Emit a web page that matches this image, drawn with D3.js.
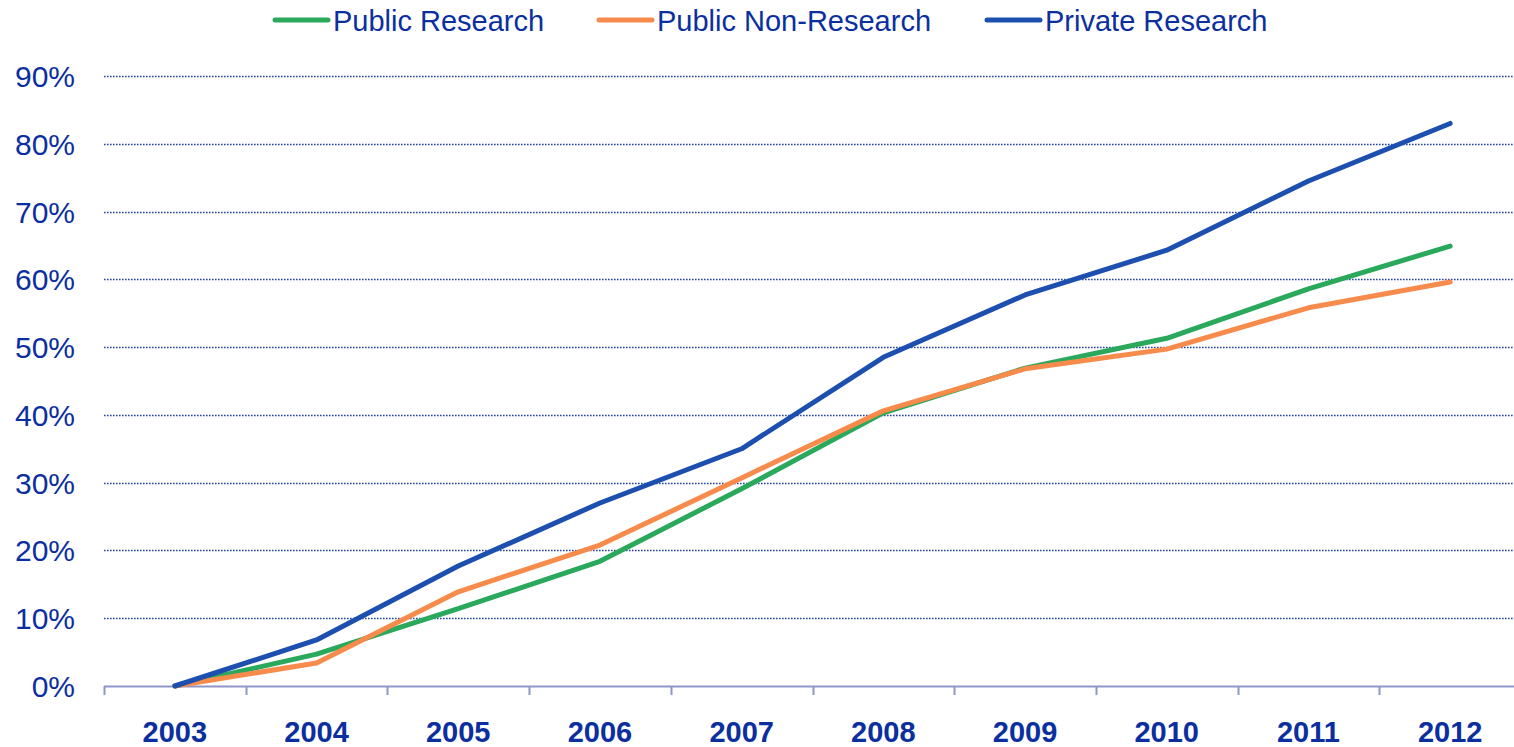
<!DOCTYPE html>
<html>
<head>
<meta charset="utf-8">
<script src="https://cdn.jsdelivr.net/npm/d3@7/dist/d3.min.js"></script>
<style>
  html, body { margin: 0; padding: 0; background: #fff; }
  svg { display: block; font-family: "Liberation Sans", Arial, sans-serif; }
</style>
</head>
<body>
<svg id="chart" width="1514" height="747"></svg>
<script>
// Cumulative growth since 2003, by institution type
const years = ["2003", "2004", "2005", "2006", "2007", "2008", "2009", "2010", "2011", "2012"];
const publicResearch    = [0, 4.7, 11.4, 18.4, 29.1, 40.3, 46.9, 51.3, 58.6, 64.9];
const publicNonResearch = [0, 3.4, 13.9, 20.8, 30.7, 40.6, 46.8, 49.7, 55.8, 59.6];
const privateResearch   = [0, 6.8, 17.7, 27.0, 35.0, 48.5, 57.7, 64.3, 74.5, 83.0];
const yTicks = [0, 10, 20, 30, 40, 50, 60, 70, 80, 90];

const series = [
  { name: "Public Research",     values: publicResearch,    color: "#2aa85b" },
  { name: "Public Non-Research", values: publicNonResearch, color: "#f68b4b" },
  { name: "Private Research",    values: privateResearch,   color: "#1d4faf" }
];

const textColor = "#0b2f9f";
const svg = d3.select("#chart");

const x = d3.scaleBand().domain(years).range([104, 1521]);
const y = d3.scaleLinear().domain([0, 90]).range([686, 76]);

// Dotted horizontal gridlines
svg.append("g")
  .selectAll("line")
  .data(yTicks.filter(d => d > 0))
  .join("line")
  .attr("x1", 104).attr("x2", 1514)
  .attr("y1", d => Math.round(y(d)) + 0.5).attr("y2", d => Math.round(y(d)) + 0.5)
  .attr("stroke", "#2443a8")
  .attr("stroke-width", 1.6)
  .attr("stroke-dasharray", "1.6,1.4");

// Y axis labels
svg.append("g")
  .selectAll("text")
  .data(yTicks)
  .join("text")
  .attr("x", 75)
  .attr("y", d => y(d) + 11)
  .attr("text-anchor", "end")
  .attr("font-size", 30)
  .attr("fill", textColor)
  .text(d => d + "%");

// X axis: baseline with tick marks at category boundaries
const xAxis = d3.axisBottom(x).tickSize(0).tickFormat("");
const gx = svg.append("g").attr("transform", "translate(0,686)").call(xAxis);
gx.select(".domain").remove();
gx.append("line")
  .attr("x1", 104).attr("x2", 1514)
  .attr("y1", 0.5).attr("y2", 0.5)
  .attr("stroke", "#8f95c6").attr("stroke-width", 2);
gx.selectAll(".boundary")
  .data(years)
  .join("line")
  .attr("class", "boundary")
  .attr("x1", d => Math.round(x(d)) + 0.5).attr("x2", d => Math.round(x(d)) + 0.5)
  .attr("y1", 0).attr("y2", 9)
  .attr("stroke", "#8f95c6").attr("stroke-width", 2);

svg.append("g")
  .selectAll("text")
  .data(years)
  .join("text")
  .attr("x", d => x(d) + x.bandwidth() / 2)
  .attr("y", 742)
  .attr("text-anchor", "middle")
  .attr("font-size", 29)
  .attr("font-weight", "bold")
  .attr("fill", textColor)
  .text(d => d);

// Series lines
const line = d3.line()
  .x((d, i) => x(years[i]) + x.bandwidth() / 2)
  .y(d => y(d));

svg.append("g")
  .selectAll("path")
  .data(series)
  .join("path")
  .attr("d", d => line(d.values))
  .attr("fill", "none")
  .attr("stroke", d => d.color)
  .attr("stroke-width", 5)
  .attr("stroke-linejoin", "round")
  .attr("stroke-linecap", "round");

// Legend
const legendX = [275, 599, 987];
const legend = svg.append("g")
  .selectAll("g")
  .data(series)
  .join("g")
  .attr("transform", (d, i) => `translate(${legendX[i]},20)`);
legend.append("line")
  .attr("x1", 0).attr("x2", 53)
  .attr("y1", 0).attr("y2", 0)
  .attr("stroke", d => d.color)
  .attr("stroke-width", 5)
  .attr("stroke-linecap", "round");
legend.append("text")
  .attr("x", 58)
  .attr("y", 11)
  .attr("font-size", 29)
  .attr("fill", textColor)
  .text(d => d.name);
</script>
</body>
</html>
